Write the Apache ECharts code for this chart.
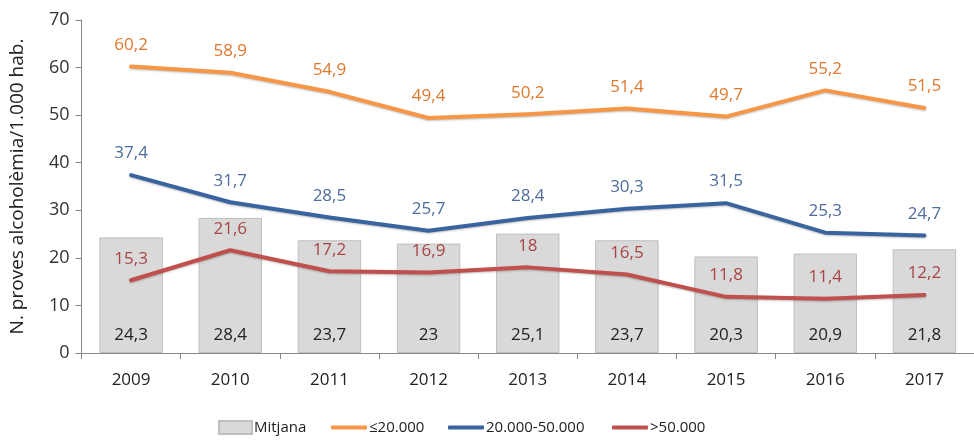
<!DOCTYPE html>
<html><head><meta charset="utf-8">
<script src="https://cdn.jsdelivr.net/npm/echarts@6/dist/echarts.min.js"></script>
<style>html,body{margin:0;padding:0;background:#fff}#c{width:974px;height:444px}</style>
</head><body><div id="c"></div>
<script>
const categories = ['2009','2010','2011','2012','2013','2014','2015','2016','2017'];
const mitjana = [24.3, 28.4, 23.7, 23, 25.1, 23.7, 20.3, 20.9, 21.8];
const small = [60.2, 58.9, 54.9, 49.4, 50.2, 51.4, 49.7, 55.2, 51.5];
const medium = [37.4, 31.7, 28.5, 25.7, 28.4, 30.3, 31.5, 25.3, 24.7];
const large = [15.3, 21.6, 17.2, 16.9, 18, 16.5, 11.8, 11.4, 12.2];
const yTicks = [0, 10, 20, 30, 40, 50, 60, 70];
const seriesNames = ['Mitjana', '≤20.000', '20.000-50.000', '>50.000'];
const yTitle = 'N. proves alcoholèmia/1.000 hab.';

const FONT = 'Open Sans';
const fmt = v => String(v).replace('.', ',');
const chart = echarts.init(document.getElementById('c'));

function lineSeries(name, data, color, labelColor) {
  return {
    name, type: 'line', data, symbol: 'circle', symbolSize: 0.01, showSymbol: true, smooth: false,
    lineStyle: { color, width: 4, cap: 'round', join: 'round', shadowColor: 'rgba(0,0,0,0.25)', shadowBlur: 2, shadowOffsetY: 1 },
    itemStyle: { color },
    label: { show: true, position: 'top', distance: 13, color: labelColor, fontFamily: FONT, fontSize: 17, formatter: p => fmt(p.value) },
    labelLayout: { hideOverlap: false },
    z: 3
  };
}
function legendAt(left, name, icon, w, h) {
  return { show: true, left, top: 420, data: [{ name, icon }], itemWidth: w, itemHeight: h,
    textStyle: { fontFamily: FONT, fontSize: 15, color: '#222', padding: [0, 0, 0, -3] }, padding: 0 };
}

chart.setOption({
  animation: false,
  grid: { left: 81.5, top: 20, width: 898, height: 333 },
  legend: [
    legendAt(218, seriesNames[0], 'rect', 33, 13),
    legendAt(331, seriesNames[1], 'roundRect', 36, 4),
    legendAt(448, seriesNames[2], 'roundRect', 36, 4),
    legendAt(612, seriesNames[3], 'roundRect', 36, 4)
  ],
  xAxis: {
    type: 'category', data: categories,
    axisLine: { lineStyle: { color: '#888', width: 1 } },
    axisTick: { show: true, length: 6, lineStyle: { color: '#888' } },
    axisLabel: { fontFamily: FONT, fontSize: 17, color: '#222', margin: 19 }
  },
  yAxis: {
    type: 'value', min: yTicks[0], max: yTicks[yTicks.length - 1], interval: 10,
    name: yTitle, nameLocation: 'middle', nameGap: 54, nameRotate: 90,
    nameTextStyle: { fontFamily: FONT, fontSize: 19, color: '#222' },
    axisLine: { show: true, lineStyle: { color: '#888', width: 1 } },
    axisTick: { show: true, length: 6, lineStyle: { color: '#888' } },
    splitLine: { show: false },
    axisLabel: { fontFamily: FONT, fontSize: 18, color: '#333', margin: 12 }
  },
  series: [
    {
      name: seriesNames[0], type: 'bar', data: mitjana, barWidth: '64%',
      itemStyle: { color: '#D9D9D9', borderColor: '#BFBFBF', borderWidth: 1 },
      label: { show: true, position: 'insideBottom', distance: 9, color: '#222', fontFamily: FONT, fontSize: 17, formatter: p => fmt(p.value) },
      z: 1
    },
    lineSeries(seriesNames[1], small, '#F79646', '#E0782E'),
    lineSeries(seriesNames[2], medium, '#3A64A0', '#4E6D9C'),
    lineSeries(seriesNames[3], large, '#C0504D', '#A84444')
  ]
});
</script></body></html>
